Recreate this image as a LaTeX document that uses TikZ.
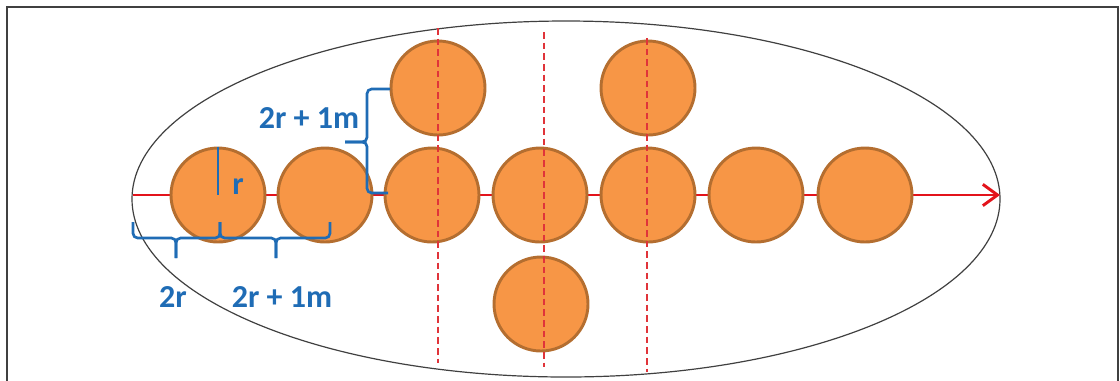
\documentclass[tikz,border=0pt]{standalone}
\usepackage{fontspec}
\setmainfont{Carlito}
\usetikzlibrary{arrows.meta}
\definecolor{ballfill}{HTML}{F79646}
\definecolor{ballline}{HTML}{B46E30}
\definecolor{dimblue}{HTML}{1F6CB5}
\definecolor{pathred}{HTML}{E3131B}
\definecolor{cutred}{HTML}{E0343A}
\definecolor{framegray}{HTML}{404040}
\begin{document}
\begin{tikzpicture}[x=0.75pt,y=-0.75pt,
  ball/.style={circle,fill=ballfill,draw=ballline,line width=2.2pt,minimum size=70.5pt,inner sep=0pt},
  frameline/.style={draw=framegray,line width=1.1pt},
  outline/.style={draw=black!75,line width=0.9pt},
  flowline/.style={draw=pathred,line width=2.2pt},
  cutline/.style={draw=cutred,line width=1.1pt,dash pattern=on 5pt off 3pt},
  bracket/.style={draw=dimblue,line width=2pt,rounded corners=3.5pt},
  dimtext/.style={text=dimblue,font=\bfseries\fontsize{24}{28}\selectfont,inner sep=0pt}]
\useasboundingbox (0,0) rectangle (1120,380);

% frame and outline
\draw[frameline] (7,382) -- (7,7) -- (1118,7) -- (1118,382);
\draw[outline] (566,199) ellipse [x radius=434, y radius=178];

% main flow line
\coordinate (start) at (133,195);
\coordinate (tip) at (1000,195);
\draw[flowline,-{Straight Barb[length=11pt,width=16pt]}] (start) -- (tip);

% row of balls
\foreach \i/\x in {1/218,2/325,3/432,4/540,5/648,6/756,7/865}
  \node[ball] (c\i) at (\x,195) {};
% off-row balls
\node[ball] (t1) at (438,88) {};
\node[ball] (t2) at (648,88) {};
\node[ball] (b1) at (541,304) {};

% cut lines
\draw[cutline] (438,28) -- (438,363);
\draw[cutline] (544,32) -- (544,367);
\draw[cutline] (647,38) -- (647,372);

% radius mark
\draw[draw=dimblue,line width=1.8pt] (c1.north) -- (c1.center);
\node[dimtext] (rlab) at (238,187) {r};

% horizontal brackets
\draw[bracket] (133,222) -- (133,238) -- (176,238) -- (176,258);
\draw[bracket] (176,258) -- (176,238) -- (220,238) -- (220,222);
\draw[bracket] (220,222) -- (220,238) -- (276,238) -- (276,258);
\draw[bracket] (276,258) -- (276,238) -- (330,238) -- (330,222);
\node[dimtext] (lab2r) at (173,297) {2r};
\node[dimtext] (labh) at (282,297) {2r + 1m};

% vertical bracket
\draw[bracket] (390,89) -- (367,89) -- (367,142) -- (345,142);
\draw[bracket] (345,142) -- (367,142) -- (367,193) -- (388,193);
\node[dimtext] (labv) at (309,118) {2r + 1m};
\end{tikzpicture}
\end{document}
